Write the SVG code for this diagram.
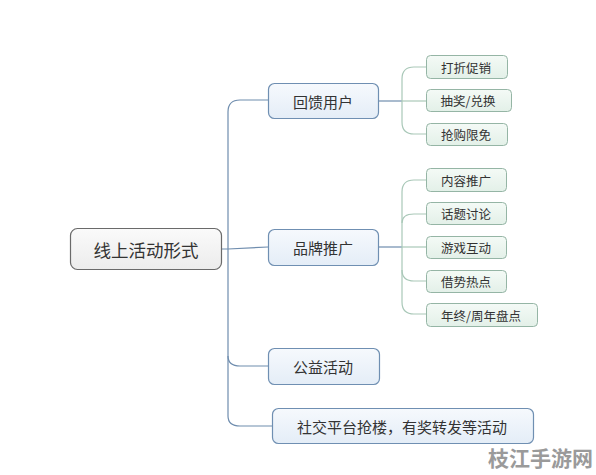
<svg xmlns="http://www.w3.org/2000/svg" width="596" height="475" viewBox="0 0 596 475">
<defs>
<linearGradient id="gRoot" x1="0" y1="0" x2="0" y2="1"><stop offset="0" stop-color="#fafafa"/><stop offset="1" stop-color="#ececec"/></linearGradient>
<linearGradient id="gMain" x1="0" y1="0" x2="0" y2="1"><stop offset="0" stop-color="#f6f9fd"/><stop offset="1" stop-color="#e4edf7"/></linearGradient>
<linearGradient id="gSub" x1="0" y1="0" x2="0" y2="1"><stop offset="0" stop-color="#f4faf6"/><stop offset="1" stop-color="#e3f0e8"/></linearGradient>
</defs>
<style>
text{font-family:"Noto Sans CJK SC","Liberation Sans",sans-serif;fill:#333;text-anchor:middle;dominant-baseline:central}
.root rect{fill:url(#gRoot);stroke:#6a6a6a;stroke-width:1.2}
.root text{font-size:17.5px}
.main rect{fill:url(#gMain);stroke:#6f8fb2;stroke-width:1.2}
.main text{font-size:15px}
.sub rect{fill:url(#gSub);stroke:#95b5a5;stroke-width:1}
.sub text{font-size:12.5px}
.cm{fill:none;stroke:#6f8dae;stroke-width:1.2}
.cs{fill:none;stroke:#a9c8b8;stroke-width:1.2}
.wm{font-size:21px;font-weight:bold;fill:#9a9a9a;text-anchor:start}
</style>
<rect width="596" height="475" fill="#ffffff"/>
<g id="connectors">
<path class="cm" d="M222 249 L228 249 L268 247"/>
<path class="cm" d="M268 100 L240 100 Q228 100 228 112 L228 416 Q228 426 240 426 L272 426"/>
<path class="cm" d="M228 356 Q228 366 240 366 L268 366"/>
<path class="cm" d="M378 101 L402 101"/>
<path class="cm" d="M378 247 L402 247"/>
<path class="cs" d="M426 67 L414 67 Q402 67 402 79 L402 122 Q402 134 414 134 L426 134"/>
<path class="cs" d="M402 101 L426 101"/>
<path class="cs" d="M426 180 L414 180 Q402 180 402 192 L402 302 Q402 314 414 314 L426 314"/>
<path class="cs" d="M402 223 Q402 214 414 214 L426 214"/>
<path class="cs" d="M402 247 L426 247"/>
<path class="cs" d="M402 270 Q402 281 414 281 L426 281"/>
</g>
<g id="root" class="root"><rect x="70.5" y="228.5" width="151" height="41" rx="7"/><text x="146" y="249">线上活动形式</text></g>
<g id="n1" class="main"><rect x="268.5" y="83.5" width="110" height="35" rx="6"/><text x="323" y="101">回馈用户</text></g>
<g id="n2" class="main"><rect x="268.5" y="229.5" width="110" height="36" rx="6"/><text x="323" y="247">品牌推广</text></g>
<g id="n3" class="main"><rect x="268.5" y="348.5" width="111" height="36" rx="6"/><text x="323" y="366">公益活动</text></g>
<g id="n4" class="main"><rect x="272.5" y="408.5" width="261" height="35" rx="6"/><text x="402" y="426">社交平台抢楼，有奖转发等活动</text></g>
<g id="s11" class="sub"><rect x="426.5" y="55.5" width="81" height="23" rx="4"/><text x="466" y="67">打折促销</text></g>
<g id="s12" class="sub"><rect x="426.5" y="89.5" width="85" height="22" rx="4"/><text x="468" y="100.5">抽奖/兑换</text></g>
<g id="s13" class="sub"><rect x="426.5" y="123.5" width="81" height="22" rx="4"/><text x="466" y="134.5">抢购限免</text></g>
<g id="s21" class="sub"><rect x="426.5" y="168.5" width="80" height="23" rx="4"/><text x="466" y="180">内容推广</text></g>
<g id="s22" class="sub"><rect x="426.5" y="202.5" width="80" height="22" rx="4"/><text x="466" y="213.5">话题讨论</text></g>
<g id="s23" class="sub"><rect x="426.5" y="236.5" width="80" height="22" rx="4"/><text x="466" y="247.5">游戏互动</text></g>
<g id="s24" class="sub"><rect x="426.5" y="270.5" width="80" height="22" rx="4"/><text x="466" y="281.5">借势热点</text></g>
<g id="s25" class="sub"><rect x="426.5" y="303.5" width="111" height="23" rx="4"/><text x="481" y="315">年终/周年盘点</text></g>
<text class="wm" x="488" y="457">枝江手游网</text>
</svg>
